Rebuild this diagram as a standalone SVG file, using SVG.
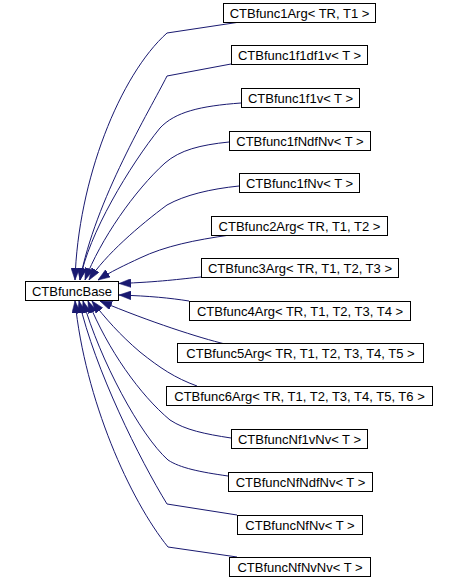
<svg xmlns="http://www.w3.org/2000/svg" width="457" height="579" viewBox="0 0 457 579">
<defs>
<style>
.node rect{fill:#fff;stroke:#000;stroke-width:1}
.node text{font-family:"Liberation Sans",Arial,sans-serif;font-size:13px;fill:#000;text-anchor:middle}
.edge{fill:none;stroke:#191970;stroke-width:1;marker-end:url(#arr)}
</style>
<marker id="arr" markerUnits="userSpaceOnUse" markerWidth="12" markerHeight="9" refX="11" refY="4" orient="auto" viewBox="0 0 11 8">
<path d="M0,0 L11,4 L0,8 z" fill="#191970" stroke="#191970" stroke-width="0.5"/>
</marker>
</defs>
<rect width="457" height="579" fill="#fff"/>
<g id="edges">
<path class="edge" d="M240,22 L167,33 C120,75 78,180 75,280"/>
<path class="edge" d="M231,64 L167,76 C150,110 95,200 80,280"/>
<path class="edge" d="M241,103 C200,106 175,112 160,128 C130,165 88,235 80,280"/>
<path class="edge" d="M229,142 C200,145 180,150 165,163 C135,190 100,240 85,280"/>
<path class="edge" d="M239,186 C210,189 185,195 167,205 C140,225 105,255 89,280"/>
<path class="edge" d="M230,235 C195,240 165,246 140,258 C125,265 110,272 98,280"/>
<path class="edge" d="M201,277 C180,279 160,282 119,283.5"/>
<path class="edge" d="M189,301 C170,298 150,296 119,295"/>
<path class="edge" d="M225,344 C200,338 150,322 100,301"/>
<path class="edge" d="M197,386 C175,378 160,368 140,352 C120,335 105,318 92,301"/>
<path class="edge" d="M231,438 C205,434 185,430 170,420 C140,395 108,350 88,301"/>
<path class="edge" d="M228,476 C200,472 180,468 168,460 C140,435 100,360 83,301"/>
<path class="edge" d="M237,515 L167,504 C140,460 95,370 79,301"/>
<path class="edge" d="M237,557 L168,547 C130,500 85,400 75,301"/>
</g>
<g id="CTBfuncBase" class="node"><rect x="25.5" y="281.5" width="93" height="19"/><text x="72" y="296">CTBfuncBase</text></g>
<g id="CTBfunc1Arg" class="node"><rect x="223.5" y="3.5" width="152" height="19"/><text x="299.5" y="18">CTBfunc1Arg&lt; TR, T1 &gt;</text></g>
<g id="CTBfunc1f1df1v" class="node"><rect x="231.5" y="45.5" width="136" height="19"/><text x="299.5" y="60">CTBfunc1f1df1v&lt; T &gt;</text></g>
<g id="CTBfunc1f1v" class="node"><rect x="241.5" y="88.5" width="118" height="19"/><text x="300.5" y="103">CTBfunc1f1v&lt; T &gt;</text></g>
<g id="CTBfunc1fNdfNv" class="node"><rect x="229.5" y="131.5" width="141" height="19"/><text x="300" y="146">CTBfunc1fNdfNv&lt; T &gt;</text></g>
<g id="CTBfunc1fNv" class="node"><rect x="239.5" y="173.5" width="120" height="19"/><text x="299.5" y="188">CTBfunc1fNv&lt; T &gt;</text></g>
<g id="CTBfunc2Arg" class="node"><rect x="211.5" y="216.5" width="176" height="19"/><text x="299.5" y="231">CTBfunc2Arg&lt; TR, T1, T2 &gt;</text></g>
<g id="CTBfunc3Arg" class="node"><rect x="201.5" y="258.5" width="197" height="19"/><text x="300" y="273">CTBfunc3Arg&lt; TR, T1, T2, T3 &gt;</text></g>
<g id="CTBfunc4Arg" class="node"><rect x="189.5" y="301.5" width="221" height="19"/><text x="300" y="316">CTBfunc4Arg&lt; TR, T1, T2, T3, T4 &gt;</text></g>
<g id="CTBfunc5Arg" class="node"><rect x="177.5" y="343.5" width="246" height="19"/><text x="300.5" y="358">CTBfunc5Arg&lt; TR, T1, T2, T3, T4, T5 &gt;</text></g>
<g id="CTBfunc6Arg" class="node"><rect x="166.5" y="386.5" width="266" height="19"/><text x="299.5" y="401">CTBfunc6Arg&lt; TR, T1, T2, T3, T4, T5, T6 &gt;</text></g>
<g id="CTBfuncNf1vNv" class="node"><rect x="231.5" y="429.5" width="136" height="19"/><text x="299.5" y="444">CTBfuncNf1vNv&lt; T &gt;</text></g>
<g id="CTBfuncNfNdfNv" class="node"><rect x="228.5" y="472.5" width="144" height="19"/><text x="300.5" y="487">CTBfuncNfNdfNv&lt; T &gt;</text></g>
<g id="CTBfuncNfNv" class="node"><rect x="237.5" y="515.5" width="125" height="19"/><text x="300" y="530">CTBfuncNfNv&lt; T &gt;</text></g>
<g id="CTBfuncNfNvNv" class="node"><rect x="229.5" y="557.5" width="141" height="19"/><text x="300" y="572">CTBfuncNfNvNv&lt; T &gt;</text></g>
</svg>
